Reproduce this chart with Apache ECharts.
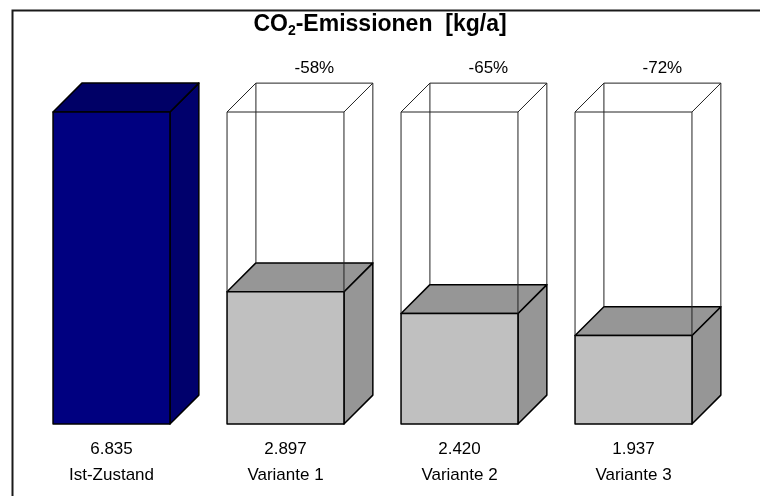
<!DOCTYPE html>
<html>
<head>
<meta charset="utf-8">
<script src="https://cdn.jsdelivr.net/npm/echarts@6/dist/echarts.min.js"></script>
<style>html,body{margin:0;padding:0;background:#fff;}#c{width:760px;height:496px;}</style>
</head>
<body>
<div id="c"></div>
<script>
const categories = ['Ist-Zustand', 'Variante 1', 'Variante 2', 'Variante 3'];
const emissions = [6835, 2897, 2420, 1937];
const reductionLabels = ['', '-58%', '-65%', '-72%'];
const valueLabels = ['6.835', '2.897', '2.420', '1.937'];

const chart = echarts.init(document.getElementById('c'), null, {renderer: 'canvas'});
const FONT = '"Liberation Sans", Arial, sans-serif';
const maxVal = emissions[0];

function renderItem(params, api) {
  const i = api.value(0);
  const v = api.value(1);
  const base = api.coord([i, 0]);
  const top = api.coord([i, v]);
  const full = api.coord([i, maxVal]);
  const band = api.size([1, 0])[0];
  const w = band * 0.672;
  const d = band * 0.166;
  const x0 = base[0] - w / 2, x1 = base[0] + w / 2;
  const yb = base[1], yt = top[1], yf = full[1];
  const isIst = i === 0;
  const cFront = isIst ? '#000080' : '#c0c0c0';
  const cTop = isIst ? '#000066' : '#969696';
  const cSide = isIst ? '#00006c' : '#969696';
  const edge = {stroke: '#000', lineWidth: 1.5, lineJoin: 'round'};
  const children = [];
  children.push({type: 'polygon', shape: {points: [[x1, yt], [x1 + d, yt - d], [x1 + d, yb - d], [x1, yb]]}, style: Object.assign({fill: cSide}, edge)});
  children.push({type: 'polygon', shape: {points: [[x0, yt], [x0 + d, yt - d], [x1 + d, yt - d], [x1, yt]]}, style: Object.assign({fill: cTop}, edge)});
  children.push({type: 'rect', shape: {x: x0, y: yt, width: w, height: yb - yt}, style: Object.assign({fill: cFront}, edge)});
  if (!isIst) {
    const wire = {stroke: '#222', lineWidth: 1, fill: null};
    children.push({type: 'polyline', shape: {points: [[x0, yf], [x0 + d, yf - d], [x1 + d, yf - d], [x1, yf], [x0, yf]]}, style: wire});
    children.push({type: 'line', shape: {x1: x0, y1: yf, x2: x0, y2: yt}, style: wire});
    children.push({type: 'line', shape: {x1: x1, y1: yf, x2: x1, y2: yt}, style: wire});
    children.push({type: 'line', shape: {x1: x0 + d, y1: yf - d, x2: x0 + d, y2: yt - d}, style: wire});
    children.push({type: 'line', shape: {x1: x1 + d, y1: yf - d, x2: x1 + d, y2: yt - d}, style: wire});
    children.push({type: 'text', style: {text: reductionLabels[i], x: base[0] + d, y: yf - d - 15, align: 'center', verticalAlign: 'middle', fontSize: 17, fontFamily: FONT, fill: '#000'}});
  }
  return {type: 'group', children: children};
}

chart.setOption({
  animation: false,
  backgroundColor: '#fff',
  title: {
    text: 'CO{sub|2}-Emissionen  [kg/a]',
    left: 'center',
    top: 7,
    textStyle: {
      fontFamily: FONT, fontSize: 23, fontWeight: 'bold', color: '#000',
      rich: {sub: {fontFamily: FONT, fontSize: 14, fontWeight: 'bold', color: '#000', verticalAlign: 'bottom', padding: [12, 0, 0, 0]}}
    }
  },
  graphic: [{type: 'rect', left: 10, top: 8, shape: {x: 0, y: 0, width: 800, height: 600}, style: {fill: null, stroke: '#1a1a1a', lineWidth: 2}, silent: true}],
  grid: {left: 24.5, right: 39.5, top: 112, bottom: 72},
  xAxis: {
    type: 'category',
    data: categories,
    axisLine: {show: false},
    axisTick: {show: false},
    axisLabel: {
      margin: 12,
      interval: 0,
      formatter: function (name, idx) { return '{v|' + valueLabels[idx] + '}\n{n|' + name + '}'; },
      rich: {
        v: {fontFamily: FONT, fontSize: 17, lineHeight: 26, color: '#000'},
        n: {fontFamily: FONT, fontSize: 17, lineHeight: 26, color: '#000'}
      }
    }
  },
  yAxis: {type: 'value', min: 0, max: maxVal, show: false, splitLine: {show: false}},
  series: [{
    type: 'custom',
    renderItem: renderItem,
    data: emissions.map((v, i) => [i, v]),
    clip: false
  }]
});
</script>
</body>
</html>
